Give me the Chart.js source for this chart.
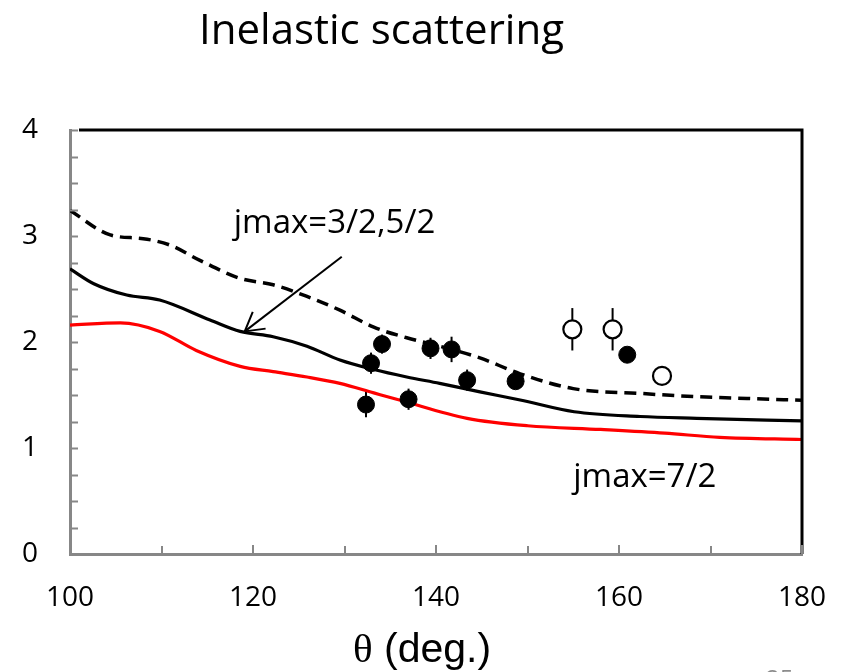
<!DOCTYPE html>
<html><head><meta charset="utf-8">
<script src="https://cdn.jsdelivr.net/npm/chart.js@4/dist/chart.umd.min.js"></script>
<style>html,body{margin:0;padding:0;background:#fff;}#wrap{width:842px;height:672px;}</style>
</head><body><div id="wrap"><canvas id="c" width="842" height="672"></canvas></div>
<script>
// ---- text ----
const titleText = "Inelastic scattering";
const xTitleSymbol = "θ";
const xTitleRest = " (deg.)";
const pageNumber = "25";
const labelUpper = "jmax=3/2,5/2";
const labelLower = "jmax=7/2";

// ---- axes ----
const xTicks = [100, 120, 140, 160, 180];
const yTicks = [0, 1, 2, 3, 4];
const xMinorStep = 10;
const yMinorStep = 0.25;

// ---- curves ----
const thetaDashed = [100, 104.4, 108, 110.9, 114.2, 118.6, 122.2, 125.9, 129.5, 133.2, 136.8, 140.4, 144.8, 149.2, 155, 162.3, 168.5, 174, 180];
const valueDashed = [3.24, 3.01, 2.975, 2.915, 2.77, 2.60, 2.54, 2.43, 2.30, 2.14, 2.04, 1.96, 1.85, 1.70, 1.56, 1.515, 1.484, 1.467, 1.45];

const thetaSolid = [100, 102.6, 106.2, 109.8, 115.3, 118.6, 122.2, 125.9, 129.5, 133.2, 136.8, 140.4, 144.8, 149.2, 155.1, 162.3, 168.5, 180];
const valueSolid = [2.69, 2.55, 2.443, 2.396, 2.208, 2.10, 2.05, 1.96, 1.83, 1.74, 1.67, 1.61, 1.53, 1.453, 1.342, 1.297, 1.28, 1.255];

const thetaRed = [100, 105.5, 109.8, 113.8, 118.6, 122.2, 125.9, 129.5, 133.2, 136.1, 143.4, 150, 158, 165, 171, 180];
const valueRed = [2.16, 2.18, 2.10, 1.92, 1.77, 1.72, 1.67, 1.61, 1.52, 1.45, 1.28, 1.21, 1.175, 1.14, 1.10, 1.08];

// ---- data points ----
const thetaFilled = [132.35, 132.9, 134.1, 137.0, 139.4, 141.7, 143.4, 148.7, 160.9];
const valueFilled = [1.41, 1.80, 1.98, 1.46, 1.94, 1.93, 1.64, 1.63, 1.88];
const errFilled = [0.12, 0.10, 0.09, 0.10, 0.10, 0.12, 0.10, 0.06, 0.05];

const thetaOpen = [154.9, 159.3, 164.7];
const valueOpen = [2.12, 2.12, 1.68];
const errOpen = [0.20, 0.20, 0.05];

// ---- annotation anchors (data units) ----
const arrowFrom = [129.7, 2.805];
const arrowTo = [119.1, 2.10];
const labelUpperAt = [117.9, 3.028];
const labelLowerAt = [155.0, 0.632];

const pts = (xs, ys) => xs.map((x, i) => ({x: x, y: ys[i]}));

const AXIS_GRAY = '#878787';

const decorPlugin = {
  id: 'decor',
  beforeDatasetsDraw(chart) {
    const ctx = chart.ctx, xs = chart.scales.x, ys = chart.scales.y;
    ctx.save();
    ctx.strokeStyle = '#000';
    ctx.lineWidth = 2;
    const bars = (X, Y, E) => X.forEach((x, i) => {
      const px = xs.getPixelForValue(x);
      ctx.beginPath();
      ctx.moveTo(px, ys.getPixelForValue(Y[i] - E[i]));
      ctx.lineTo(px, ys.getPixelForValue(Y[i] + E[i]));
      ctx.stroke();
    });
    bars(thetaFilled, valueFilled, errFilled);
    bars(thetaOpen, valueOpen, errOpen);
    ctx.restore();
  },
  afterDraw(chart) {
    const ctx = chart.ctx, xs = chart.scales.x, ys = chart.scales.y, a = chart.chartArea;
    ctx.save();
    // top / right frame
    ctx.strokeStyle = '#000';
    ctx.lineWidth = 3;
    ctx.beginPath();
    ctx.moveTo(a.left + 9, a.top);
    ctx.lineTo(a.right, a.top);
    ctx.lineTo(a.right, a.bottom);
    ctx.stroke();
    // inward minor ticks
    ctx.strokeStyle = AXIS_GRAY;
    ctx.lineWidth = 2;
    for (let v = ys.min; v <= ys.max + 1e-9; v += yMinorStep) {
      const py = Math.round(ys.getPixelForValue(v)) + 0.5;
      ctx.beginPath(); ctx.moveTo(a.left, py); ctx.lineTo(a.left + 8, py); ctx.stroke();
    }
    for (let v = xs.min; v <= xs.max + 1e-9; v += xMinorStep) {
      const px = Math.round(xs.getPixelForValue(v));
      const len = (v % 20 === 0) ? 9 : 8;
      ctx.beginPath(); ctx.moveTo(px, a.bottom); ctx.lineTo(px, a.bottom - len); ctx.stroke();
    }
    // arrow
    const fx = xs.getPixelForValue(arrowFrom[0]), fy = ys.getPixelForValue(arrowFrom[1]);
    const tx = xs.getPixelForValue(arrowTo[0]), ty = ys.getPixelForValue(arrowTo[1]);
    ctx.strokeStyle = '#000';
    ctx.lineWidth = 2;
    ctx.beginPath(); ctx.moveTo(fx, fy); ctx.lineTo(tx, ty); ctx.stroke();
    const ang = Math.atan2(fy - ty, fx - tx), head = 21, spread = Math.PI / 6;
    ctx.beginPath();
    ctx.moveTo(tx + head * Math.cos(ang - spread), ty + head * Math.sin(ang - spread));
    ctx.lineTo(tx, ty);
    ctx.lineTo(tx + head * Math.cos(ang + spread), ty + head * Math.sin(ang + spread));
    ctx.stroke();
    // annotation labels
    ctx.fillStyle = '#000';
    ctx.textAlign = 'left';
    ctx.textBaseline = 'alphabetic';
    ctx.font = '33px "Open Sans"';
    ctx.fillText(labelUpper, xs.getPixelForValue(labelUpperAt[0]), ys.getPixelForValue(labelUpperAt[1]));
    ctx.fillText(labelLower, xs.getPixelForValue(labelLowerAt[0]), ys.getPixelForValue(labelLowerAt[1]));
    // title
    ctx.font = '42px "Open Sans"';
    ctx.fillText(titleText, 199, 44);
    // x axis title
    ctx.font = '41px "Liberation Serif"';
    ctx.fillText(xTitleSymbol, 353, 662);
    const w = ctx.measureText(xTitleSymbol).width;
    ctx.font = '41px "Liberation Sans"';
    ctx.fillText(xTitleRest, 353 + w, 662);
    // page number (cut off at bottom)
    ctx.fillStyle = '#8c8c8c';
    ctx.font = '24px "Open Sans"';
    ctx.textBaseline = 'alphabetic';
    ctx.fillText(pageNumber, 766, 687);
    ctx.restore();
  }
};

const tickFont = {family: 'Open Sans', size: 28};

new Chart(document.getElementById('c'), {
  type: 'scatter',
  data: {
    datasets: [
      {data: pts(thetaFilled, valueFilled), pointRadius: 8.5, pointBackgroundColor: '#000', pointBorderColor: '#000', pointBorderWidth: 1, showLine: false},
      {data: pts(thetaOpen, valueOpen), pointRadius: 9, pointBackgroundColor: '#fff', pointBorderColor: '#000', pointBorderWidth: 2.2, showLine: false},
      {data: pts(thetaDashed, valueDashed), showLine: true, borderColor: '#000', borderWidth: 3.5, borderDash: [12, 7], pointRadius: 0, cubicInterpolationMode: 'monotone', fill: false},
      {data: pts(thetaSolid, valueSolid), showLine: true, borderColor: '#000', borderWidth: 3.2, pointRadius: 0, cubicInterpolationMode: 'monotone', fill: false},
      {data: pts(thetaRed, valueRed), showLine: true, borderColor: '#ff0000', borderWidth: 3.2, pointRadius: 0, cubicInterpolationMode: 'monotone', fill: false}
    ]
  },
  options: {
    responsive: false,
    animation: false,
    devicePixelRatio: 1,
    layout: {padding: {top: 130, right: 40, left: 0, bottom: 0}},
    plugins: {legend: {display: false}, tooltip: {enabled: false}, title: {display: false}},
    scales: {
      x: {
        type: 'linear', position: 'bottom', min: 100, max: 180,
        afterBuildTicks: s => { s.ticks = xTicks.map(v => ({value: v})); },
        afterFit: s => { s.height = 118; s.paddingLeft = 0; s.paddingRight = 0; },
        ticks: {font: tickFont, color: '#000', padding: 27, maxRotation: 0, autoSkip: false},
        grid: {display: false, drawTicks: false},
        border: {display: true, color: AXIS_GRAY, width: 3}
      },
      y: {
        type: 'linear', position: 'left', min: 0, max: 4,
        afterBuildTicks: s => { s.ticks = yTicks.map(v => ({value: v})); },
        afterFit: s => { s.width = 70; s.paddingTop = 0; s.paddingBottom = 0; },
        ticks: {font: tickFont, color: '#000', padding: 32, autoSkip: false},
        grid: {display: false, drawTicks: false},
        border: {display: true, color: AXIS_GRAY, width: 3}
      }
    }
  },
  plugins: [decorPlugin]
});
</script>
</body></html>
